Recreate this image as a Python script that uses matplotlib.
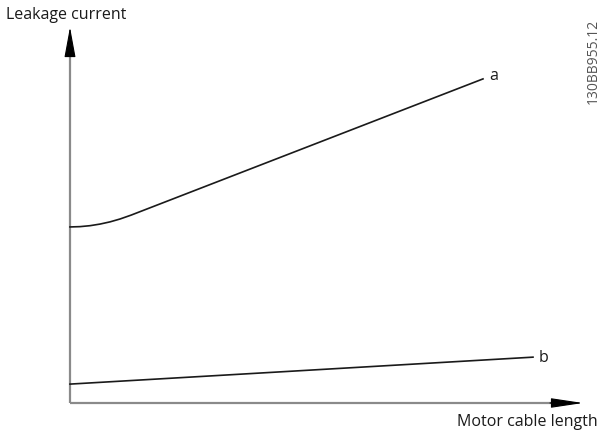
import matplotlib
matplotlib.use("Agg")
import matplotlib.pyplot as plt

# Data (arbitrary units)
a_x = [0.0, 0.2, 0.4, 0.6, 0.8, 1.0, 1.22, 8.26]
a_y = [5.03, 5.039, 5.066, 5.112, 5.175, 5.257, 5.367, 9.26]
b_x = [0.0, 9.26]
b_y = [0.54, 1.31]
x_label = "Motor cable length"
y_label = "Leakage current"
doc_id = "130BB955.12"

plt.rcParams['font.family'] = ['Open Sans', 'DejaVu Sans']

fig = plt.figure(figsize=(6, 4.35), dpi=100)
ax = fig.add_axes([70/600, 31/435, 500/600, 350/435])
ax.set_xlim(0, 10)
ax.set_ylim(0, 10)
ax.axis('off')

gray = '#8a8a8a'
# axis shafts
ax.plot([0, 0], [0, 10.2], color=gray, lw=1.6, clip_on=False, solid_capstyle='butt')
ax.plot([0, 9.8], [0, 0], color=gray, lw=1.6, clip_on=False, solid_capstyle='butt')
# arrowheads
ax.annotate('', xy=(0, 10.74), xytext=(0, 9.9),
            arrowprops=dict(arrowstyle='-|>,head_length=1.9,head_width=0.35', color='black', lw=0.8, shrinkA=0, shrinkB=0),
            annotation_clip=False)
ax.annotate('', xy=(10.26, 0), xytext=(9.6, 0),
            arrowprops=dict(arrowstyle='-|>,head_length=2.0,head_width=0.3', color='black', lw=0.8, shrinkA=0, shrinkB=0),
            annotation_clip=False)

ax.plot(a_x, a_y, color='#1a1a1a', lw=1.2, clip_on=False)
ax.plot(b_x, b_y, color='#1a1a1a', lw=1.2, clip_on=False)

ax.text(a_x[-1] + 0.12, a_y[-1] + 0.1, 'a', fontsize=11.5, ha='left', va='center', color='#1a1a1a')
ax.text(b_x[-1] + 0.12, b_y[-1] - 0.0, 'b', fontsize=11.5, ha='left', va='center', color='#1a1a1a')

fig.text(6/600, 1 - 15/435, y_label, fontsize=11.5, ha='left', va='center', color='#1a1a1a')
fig.text(598/600, 1 - 422/435, x_label, fontsize=11.5, ha='right', va='center', color='#1a1a1a')
fig.text(593/600, 1 - 104/435, doc_id, fontsize=10, rotation=90, ha='center', va='bottom', color='#555555')

fig.savefig('out.png', dpi=100)
